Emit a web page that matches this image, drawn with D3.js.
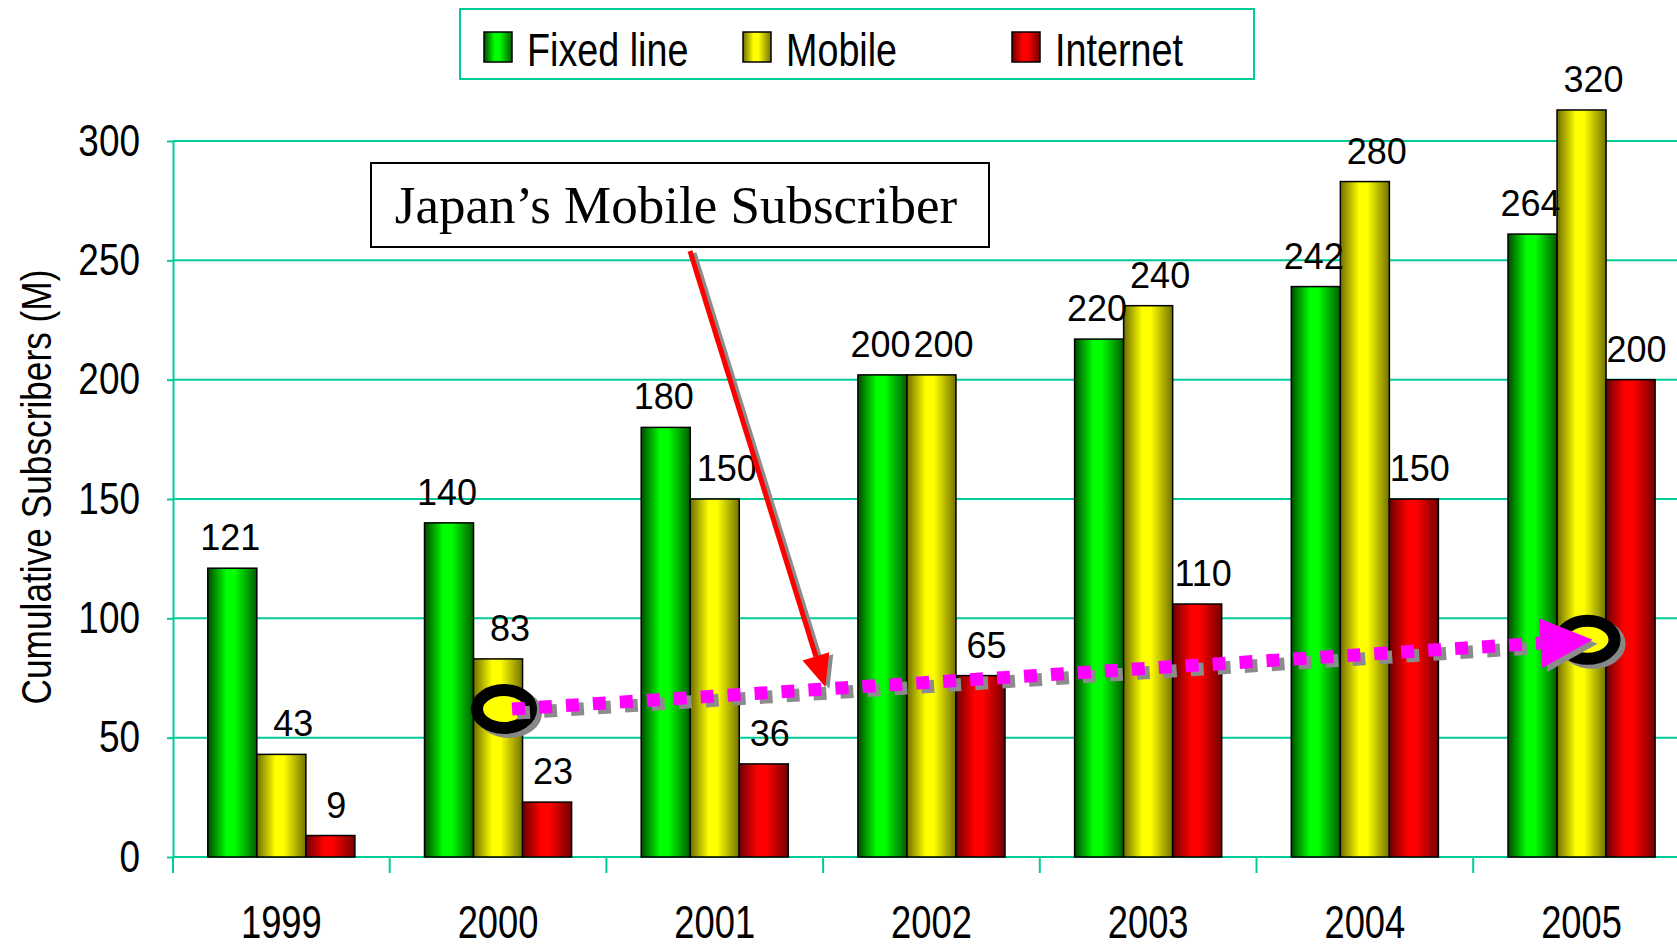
<!DOCTYPE html>
<html>
<head>
<meta charset="utf-8">
<script src="https://cdn.jsdelivr.net/npm/d3@7"></script>
<style>
  body { margin: 0; background: #fff; overflow: hidden; }
</style>
</head>
<body>
<div class="chart"></div>
<script>
const years = ["1999", "2000", "2001", "2002", "2003", "2004", "2005"];
const seriesNames = ["Fixed line", "Mobile", "Internet"];

// bar heights as they are drawn in the original slide
const fixedLine = [121, 140, 180, 202, 217, 239, 261];
const mobile = [43, 83, 150, 202, 231, 283, 313];
const internet = [9, 23, 39, 76, 106, 150, 200];

// numbers printed above the bars
const fixedLabels = ["121", "140", "180", "200", "220", "242", "264"];
const mobileLabels = ["43", "83", "150", "200", "240", "280", "320"];
const internetLabels = ["9", "23", "36", "65", "110", "150", "200"];

const yTicks = [0, 50, 100, 150, 200, 250, 300];
const yTitle = "Cumulative Subscribers (M)";
const calloutText = "Japan\u2019s Mobile Subscriber";

// mobile trend highlight (year, value) : start and end of the dotted arrow
const trendYears = ["2000", "2005"];
const trendValues = [62, 91];

class SubscriberChart {

    constructor() {
        this.width = 1677;
        this.height = 952;
        this.left = 173;
        this.band = 216.7;
        this.teal = "#00cc99";
        // no Arial Narrow here, so squeeze Liberation Sans instead
        this.sans = "'Liberation Sans', Arial, sans-serif";
        this.squeeze = "scale(0.82,1)";
        this.colors = {
            "Fixed line": ["#004a00", "#00ff00", "#005c00"],
            "Mobile": ["#6e6e00", "#ffff00", "#737300"],
            "Internet": ["#6e0000", "#ff0000", "#730000"]
        };
        this.labelShift = {"Fixed line": -2, "Mobile": 12, "Internet": 6};

        this.rows = years.map((yr, i) => ({
            year: yr,
            values: [
                {key: "Fixed line", value: fixedLine[i], label: fixedLabels[i]},
                {key: "Mobile", value: mobile[i], label: mobileLabels[i]},
                {key: "Internet", value: internet[i], label: internetLabels[i]}
            ]
        }));

        this.x0 = d3.scaleBand().domain(years)
            .range([this.left, this.left + this.band * years.length]).padding(0);
        this.x1 = d3.scaleBand().domain(seriesNames)
            .range([0, this.x0.bandwidth()]).paddingInner(0).paddingOuter(0.71);
        this.y = d3.scaleLinear().domain([0, 300]).range([857, 141]);

        this.drawChart();
    }

    drawChart() {
        this.svg = d3.select(".chart").append("svg")
            .attr("width", this.width)
            .attr("height", this.height);
        this.makeGradients();
        this.drawGrid();
        this.drawAxes();
        this.drawBars();
        this.drawLegend();
        this.drawAnnotations();
    }

    makeGradients() {
        let defs = this.svg.append("defs");
        seriesNames.forEach((name, i) => {
            let c = this.colors[name];
            let g = defs.append("linearGradient").attr("id", "grad" + i)
                .attr("x1", "0%").attr("x2", "100%").attr("y1", "0%").attr("y2", "0%");
            g.append("stop").attr("offset", "0%").attr("stop-color", c[0]);
            g.append("stop").attr("offset", "38%").attr("stop-color", c[1]);
            g.append("stop").attr("offset", "55%").attr("stop-color", c[1]);
            g.append("stop").attr("offset", "100%").attr("stop-color", c[2]);
        });
    }

    drawGrid() {
        this.svg.append("g").attr("class", "grid")
            .selectAll("line")
            .data(yTicks)
            .join("line")
            .attr("x1", this.left)
            .attr("x2", this.width)
            .attr("y1", d => this.y(d))
            .attr("y2", d => this.y(d))
            .attr("stroke", this.teal)
            .attr("stroke-width", 2);
    }

    drawAxes() {
        let yAxis = this.svg.append("g")
            .attr("transform", `translate(${this.left},0)`)
            .call(d3.axisLeft(this.y).tickValues(yTicks).tickSize(6).tickPadding(27).tickSizeOuter(0));
        yAxis.select(".domain").attr("stroke", this.teal).attr("stroke-width", 2);
        yAxis.selectAll(".tick line").attr("stroke", this.teal).attr("stroke-width", 2);
        yAxis.selectAll("text")
            .attr("font-family", this.sans)
            .attr("font-size", 44)
            .attr("transform", "scale(0.84,1)")
            .attr("x", -33 / 0.84)
            .attr("fill", "#000");

        // boundary ticks under the category axis
        this.svg.append("g").selectAll("line")
            .data(years)
            .join("line")
            .attr("x1", d => this.x0(d))
            .attr("x2", d => this.x0(d))
            .attr("y1", this.y(0))
            .attr("y2", this.y(0) + 16)
            .attr("stroke", this.teal)
            .attr("stroke-width", 2);

        let xAxis = this.svg.append("g")
            .attr("transform", `translate(0,${this.y(0)})`)
            .call(d3.axisBottom(this.x0).tickSize(0).tickPadding(48));
        xAxis.select(".domain").remove();
        xAxis.selectAll("text")
            .attr("font-family", this.sans)
            .attr("font-size", 46)
            .attr("transform", "scale(0.79,1)")
            .attr("fill", "#000");

        this.svg.append("text")
            .attr("transform", `translate(36,487) rotate(-90) ${this.squeeze}`)
            .attr("text-anchor", "middle")
            .attr("dominant-baseline", "central")
            .attr("font-family", this.sans)
            .attr("font-size", 43)
            .text(yTitle);
    }

    drawBars() {
        let groups = this.svg.append("g").attr("class", "bars")
            .selectAll("g")
            .data(this.rows)
            .join("g")
            .attr("transform", d => `translate(${this.x0(d.year)},0)`);

        groups.selectAll("rect")
            .data(d => d.values)
            .join("rect")
            .attr("x", d => this.x1(d.key))
            .attr("y", d => this.y(d.value))
            .attr("width", this.x1.bandwidth())
            .attr("height", d => this.y(0) - this.y(d.value))
            .attr("fill", d => `url(#grad${seriesNames.indexOf(d.key)})`)
            .attr("stroke", "#000")
            .attr("stroke-width", 1.5);

        groups.selectAll("text")
            .data(d => d.values)
            .join("text")
            .attr("x", d => this.x1(d.key) + this.x1.bandwidth() / 2 + this.labelShift[d.key])
            .attr("y", d => this.y(d.value) - 18)
            .attr("text-anchor", "middle")
            .attr("font-family", this.sans)
            .attr("font-size", 36)
            .text(d => d.label);
    }

    drawLegend() {
        let lg = this.svg.append("g").attr("class", "legend");
        lg.append("rect")
            .attr("x", 460).attr("y", 9)
            .attr("width", 794).attr("height", 70)
            .attr("fill", "#fff")
            .attr("stroke", this.teal)
            .attr("stroke-width", 2);

        let xs = [484, 743, 1012];
        let items = lg.selectAll("g.item")
            .data(seriesNames)
            .join("g")
            .attr("class", "item")
            .attr("transform", (d, i) => `translate(${xs[i]},32)`);
        items.append("rect")
            .attr("width", 28).attr("height", 30)
            .attr("fill", (d, i) => `url(#grad${i})`)
            .attr("stroke", "#000")
            .attr("stroke-width", 1.5);
        items.append("text")
            .attr("transform", `translate(43,34) ${this.squeeze}`)
            .attr("font-family", this.sans)
            .attr("font-size", 46)
            .text(d => d);
    }

    drawAnnotations() {
        let x = this.x0, x1 = this.x1, y = this.y;
        let pts = trendYears.map((yr, i) => [
            x(yr) + x1("Mobile") + x1.bandwidth() / 2 + 6,
            y(trendValues[i])
        ]);
        let ann = this.svg.append("g").attr("class", "annotations");

        // rings
        pts.forEach(p => {
            ann.append("ellipse")
                .attr("cx", p[0] + 5).attr("cy", p[1] + 4)
                .attr("rx", 27).attr("ry", 19)
                .attr("fill", "none").attr("stroke", "#888").attr("stroke-width", 12);
            ann.append("ellipse")
                .attr("cx", p[0]).attr("cy", p[1])
                .attr("rx", 27).attr("ry", 19)
                .attr("fill", "#ffff00").attr("stroke", "#000").attr("stroke-width", 12);
        });

        // dotted magenta trend arrow
        let start = [pts[0][0] + 8, pts[0][1]];
        let tip = [pts[1][0] + 5, pts[1][1]];
        let ang = Math.atan2(tip[1] - start[1], tip[0] - start[0]);
        let headLen = 52, headW = 25;
        let base = [tip[0] - headLen * Math.cos(ang), tip[1] - headLen * Math.sin(ang)];
        let head = [
            tip,
            [base[0] + headW * Math.sin(ang), base[1] - headW * Math.cos(ang)],
            [base[0] - headW * Math.sin(ang), base[1] + headW * Math.cos(ang)]
        ];
        [["#8c8c8c", 5, 4], ["#ff00ff", 0, 0]].forEach(([col, dx, dy]) => {
            ann.append("line")
                .attr("x1", start[0] + dx).attr("y1", start[1] + dy)
                .attr("x2", base[0] + dx).attr("y2", base[1] + dy)
                .attr("stroke", col)
                .attr("stroke-width", 13)
                .attr("stroke-dasharray", "13 14");
            ann.append("polygon")
                .attr("points", head.map(p => [p[0] + dx, p[1] + dy].join(",")).join(" "))
                .attr("fill", col);
        });

        // callout box
        ann.append("rect")
            .attr("x", 371).attr("y", 163)
            .attr("width", 618).attr("height", 84)
            .attr("fill", "#fff")
            .attr("stroke", "#000")
            .attr("stroke-width", 2);
        ann.append("text")
            .attr("x", 676).attr("y", 223)
            .attr("text-anchor", "middle")
            .attr("font-family", "'Liberation Serif', 'Times New Roman', serif")
            .attr("font-size", 53)
            .text(calloutText);

        // red pointer from the callout to the trend line
        let t = 0.29;
        let rTip = [start[0] + (tip[0] - start[0]) * t, start[1] + (tip[1] - start[1]) * t - 2];
        let rStart = [690, 251];
        let ra = Math.atan2(rTip[1] - rStart[1], rTip[0] - rStart[0]);
        let rBase = [rTip[0] - 32 * Math.cos(ra), rTip[1] - 32 * Math.sin(ra)];
        let rHead = [
            rTip,
            [rBase[0] + 14 * Math.sin(ra), rBase[1] - 14 * Math.cos(ra)],
            [rBase[0] - 14 * Math.sin(ra), rBase[1] + 14 * Math.cos(ra)]
        ];
        [["#8c8c8c", 4, 2], ["#ff0000", 0, 0]].forEach(([col, dx, dy]) => {
            ann.append("line")
                .attr("x1", rStart[0] + dx).attr("y1", rStart[1] + dy)
                .attr("x2", rBase[0] + dx).attr("y2", rBase[1] + dy)
                .attr("stroke", col)
                .attr("stroke-width", 5);
            ann.append("polygon")
                .attr("points", rHead.map(p => [p[0] + dx, p[1] + dy].join(",")).join(" "))
                .attr("fill", col);
        });
    }
}

new SubscriberChart();
</script>
</body>
</html>
